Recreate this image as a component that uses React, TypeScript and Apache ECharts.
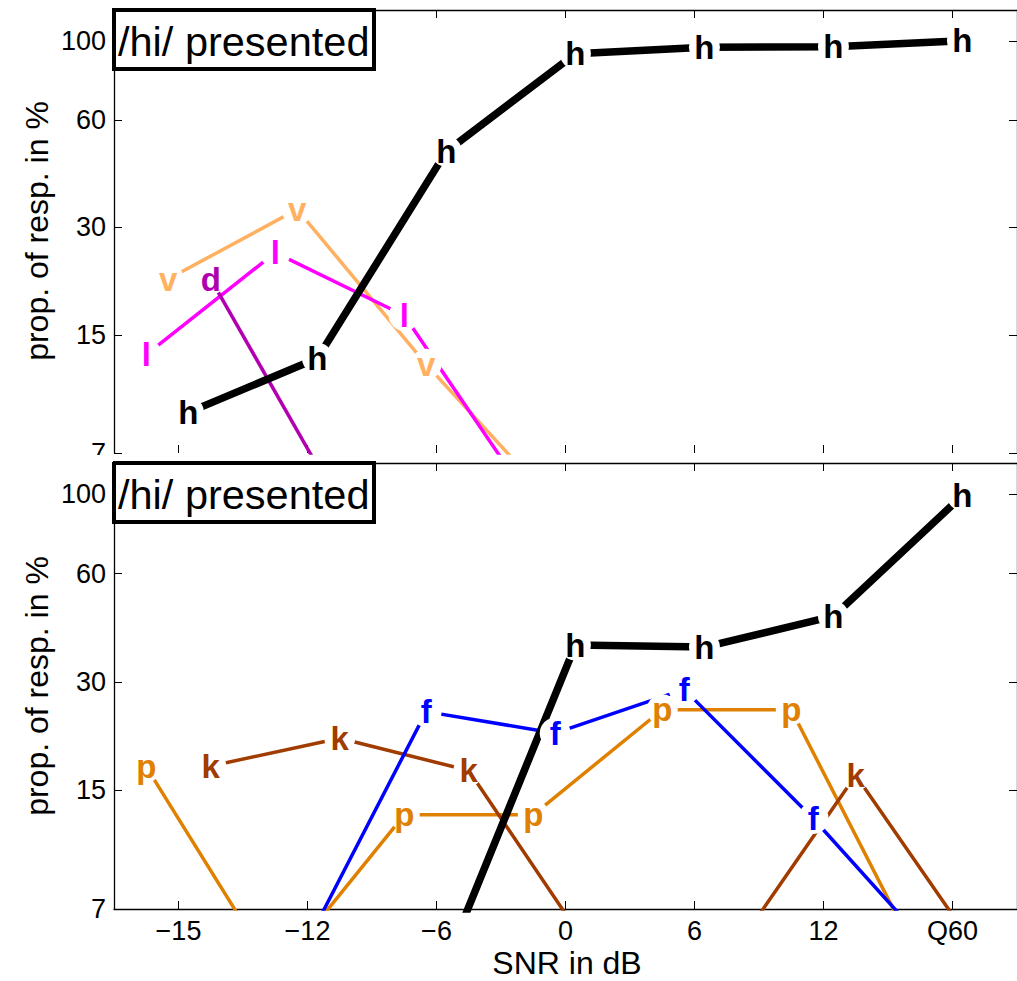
import React, { useEffect, useRef } from "react";
import * as echarts from "echarts";

// SNR conditions (x categories) and y tick labels (percent, log scale)
const CONDITIONS = ["\u221215", "\u221212", "\u22126", "0", "6", "12", "Q60"];
const Y_TICKS = [7, 15, 30, 60, 100];
const Y_MIN = 7;
const Y_MAX = 122;

// Top panel: proportion of responses (%) per condition; 5 = below visible floor
const topH = [9.1, 12.9, 49, 92, 96, 96.3, 100];
const topV = [21.5, 33.7, 12.4, 5, null, null, null];
const topL = [13.2, 25.5, 17.0, 5, null, null, null];
const topD = [21.5, 5, null, null, null, null, null];

// Bottom panel
const botH = [null, null, 5, 38, 37.5, 45.7, 99];
const botF = [null, 5, 24.8, 21.6, 28.6, 12.5, 5];
const botP = [17.4, 4.6, 12.8, 12.8, 25.1, 25.1, 5];
const botK = [17.5, 20.9, 17.0, 5, 5, 16.5, 5];

const FONT = "'Liberation Sans', Arial, Helvetica, sans-serif";

const STYLE: Record<string, { color: string; width: number; offset: number }> = {
  h: { color: "#000000", width: 7.5, offset: 0.077 },
  v: { color: "#FFB060", width: 3.5, offset: -0.08 },
  l: { color: "#FF00FF", width: 3.5, offset: -0.25 },
  d: { color: "#B000B0", width: 3.5, offset: 0.25 },
  f: { color: "#0000FF", width: 3.5, offset: -0.08 },
  p: { color: "#E08000", width: 3.5, offset: -0.25 },
  k: { color: "#A03C00", width: 3.5, offset: 0.25 },
};

const lg = (v: number) => Math.log10(v);

function toData(arr: (number | null)[], offset: number) {
  const out: number[][] = [];
  arr.forEach((v, i) => {
    if (v != null) out.push([i + offset, lg(v)]);
  });
  return out;
}

function makeSeries(panel: number, letter: string, arr: (number | null)[]) {
  const s = STYLE[letter];
  const data = toData(arr, s.offset);
  return [
    {
      type: "line",
      xAxisIndex: panel * 2,
      yAxisIndex: panel * 2,
      data,
      symbol: "none",
      clip: true,
      silent: true,
      z: 2,
      lineStyle: { color: s.color, width: s.width, cap: "butt" },
    },
    {
      type: "scatter",
      xAxisIndex: panel * 2,
      yAxisIndex: panel * 2,
      data,
      clip: true,
      silent: true,
      z: 4,
      symbol: "circle",
      symbolSize: 31,
      itemStyle: { color: "#ffffff", opacity: 1 },
      label: {
        show: true,
        position: "inside",
        formatter: letter,
        color: s.color,
        fontSize: 33,
        fontWeight: "bold",
        fontFamily: FONT,
      },
    },
  ];
}

const GRIDS = [
  { left: 114, top: 10, width: 907, height: 443 },
  { left: 114, top: 463, width: 907, height: 446 },
];

const xTickVals = CONDITIONS.map((_, i) => i);
const yTickVals = Y_TICKS.map(lg);

function xAxes(gridIndex: number, showLabels: boolean, showBottomLine: boolean) {
  const base = {
    gridIndex,
    type: "value",
    min: -0.5,
    max: 6.5,
    splitLine: { show: false },
    axisTick: { show: true, inside: true, length: 8, customValues: xTickVals, lineStyle: { color: "#000", width: 1 } },
  };
  return [
    {
      ...base,
      position: "bottom",
      axisLine: { show: showBottomLine, onZero: false, lineStyle: { color: "#000", width: 1.3 } },
      axisLabel: {
        show: showLabels,
        customValues: xTickVals,
        formatter: (v: number) => CONDITIONS[Math.round(v)] ?? "",
        fontSize: 27,
        fontFamily: FONT,
        color: "#000",
        margin: 8,
      },
    },
    {
      ...base,
      position: "top",
      axisLine: { show: true, onZero: false, lineStyle: { color: "#000", width: 1.3 } },
      axisLabel: { show: false },
    },
  ];
}

function yAxes(gridIndex: number) {
  const base = {
    gridIndex,
    type: "value",
    min: lg(Y_MIN),
    max: lg(Y_MAX),
    splitLine: { show: false },
    axisTick: { show: true, inside: true, length: 8, customValues: yTickVals, lineStyle: { color: "#000", width: 1 } },
  };
  return [
    {
      ...base,
      position: "left",
      axisLine: { show: true, onZero: false, lineStyle: { color: "#000", width: 1.3 } },
      axisLabel: {
        show: true,
        customValues: yTickVals,
        formatter: (v: number) => String(Math.round(Math.pow(10, v))),
        fontSize: 27,
        fontFamily: FONT,
        color: "#000",
        margin: 8,
      },
    },
    {
      ...base,
      position: "right",
      axisLine: { show: true, onZero: false, lineStyle: { color: "#000", width: 1.3 } },
      axisLabel: { show: false },
    },
  ];
}

function legendBox(top: number) {
  return [
    {
      type: "rect",
      z: 50,
      shape: { x: 114, y: top, width: 260, height: 59 },
      style: { fill: "#ffffff", stroke: "#000000", lineWidth: 4 },
    },
    {
      type: "text",
      z: 51,
      x: 118,
      y: top + 31,
      style: {
        text: "/hi/ presented",
        fontSize: 41.5,
        fontFamily: FONT,
        fill: "#000",
        align: "left",
        verticalAlign: "middle",
      },
    },
  ];
}

function yName(cy: number) {
  return {
    type: "text",
    z: 50,
    x: 37,
    y: cy,
    rotation: Math.PI / 2,
    style: {
      text: "prop. of resp. in %",
      fontSize: 32,
      fontFamily: FONT,
      fill: "#000",
      align: "center",
      verticalAlign: "middle",
    },
  };
}

export default function App() {
  const ref = useRef<HTMLDivElement>(null);
  useEffect(() => {
    if (!ref.current) return;
    const chart = echarts.init(ref.current, null, { renderer: "svg" });
    const option = {
      animation: false,
      backgroundColor: "#ffffff",
      grid: GRIDS,
      xAxis: [...xAxes(0, false, false), ...xAxes(1, true, true)],
      yAxis: [...yAxes(0), ...yAxes(1)],
      series: [
        ...makeSeries(0, "v", topV),
        ...makeSeries(0, "l", topL),
        ...makeSeries(0, "d", topD),
        ...makeSeries(0, "h", topH),
        ...makeSeries(1, "p", botP),
        ...makeSeries(1, "k", botK),
        ...makeSeries(1, "f", botF),
        ...makeSeries(1, "h", botH),
      ],
      graphic: [
        {
          type: "rect",
          z: 100,
          shape: { x: 0, y: 455, width: 113, height: 7 },
          style: { fill: "#ffffff" },
        },
        ...legendBox(10),
        ...legendBox(463),
        yName(231),
        yName(686),
        {
          type: "text",
          z: 50,
          x: 567,
          y: 963,
          style: {
            text: "SNR in dB",
            fontSize: 32,
            fontFamily: FONT,
            fill: "#000",
            align: "center",
            verticalAlign: "middle",
          },
        },
      ],
    };
    chart.setOption(option as any);
    return () => chart.dispose();
  }, []);
  return (
    <div
      ref={ref}
      style={{ position: "absolute", left: 0, top: 0, width: 1017, height: 981, background: "#fff" }}
    />
  );
}
